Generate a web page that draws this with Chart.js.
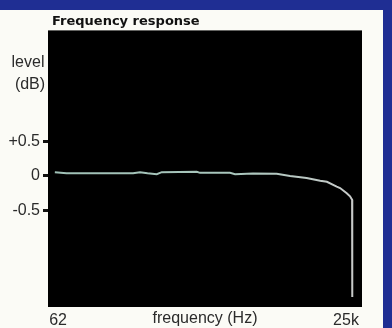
<!DOCTYPE html>
<html>
<head>
<meta charset="utf-8">
<script src="https://cdn.jsdelivr.net/npm/chart.js@4/dist/chart.umd.min.js"></script>
<style>
  html, body { margin: 0; padding: 0; background: #1f2e93; width: 392px; height: 328px; overflow: hidden; }
  #frame { position: absolute; left: 0; top: 10px; width: 383px; height: 318px; background: #fbfbf6; }
  canvas { display: block; }
</style>
</head>
<body>
<div id="frame"><canvas id="chart" width="383" height="318"></canvas></div>
<script>
const freqs = [58, 74, 296, 342, 400, 485, 538, 1115, 1195, 2230, 2480, 3600, 5900, 7800, 11000, 14600, 16800, 20600, 22100, 25400, 27200, 28400, 28500];
const levels = [0.055, 0.04, 0.04, 0.055, 0.04, 0.025, 0.055, 0.06, 0.045, 0.045, 0.025, 0.035, 0.03, 0.0, -0.03, -0.07, -0.085, -0.155, -0.175, -0.25, -0.295, -0.345, -1.755];

const yTicks = [0.5, 0, -0.5];
const xTicks = [62, 25000];
const xTickText = ['62', '25k'];

const labelFont = { family: '"Liberation Sans", Arial, sans-serif', size: 16 };
const textColor = '#2b2b2b';

const plotBg = {
    id: 'plotBg',
    beforeDraw(chart) {
        const { ctx, chartArea: a } = chart;
        ctx.save();
        ctx.fillStyle = '#000';
        ctx.fillRect(a.left, a.top, a.right - a.left, a.bottom - a.top);
        ctx.restore();
    }
};

const axisText = {
    id: 'axisText',
    afterDraw(chart) {
        const { ctx, chartArea: a } = chart;
        ctx.save();
        ctx.font = 'bold 13px "DejaVu Sans", sans-serif';
        ctx.fillStyle = '#111';
        ctx.textAlign = 'left';
        ctx.textBaseline = 'middle';
        ctx.fillText('Frequency response', 52, 12);
        ctx.font = '16px "Liberation Sans", Arial, sans-serif';
        ctx.fillStyle = textColor;
        ctx.textAlign = 'center';
        ctx.fillText('level', 28, 53);
        ctx.fillText('(dB)', 30, 75);
        ctx.fillText('frequency (Hz)', (a.left + a.right) / 2, 309);
        ctx.restore();
    }
};

new Chart(document.getElementById('chart'), {
    type: 'line',
    data: {
        datasets: [{
            data: freqs.map((f, i) => ({ x: f, y: levels[i] })),
            borderColor: (c) => {
                const area = c.chart.chartArea;
                if (!area) return '#a8c2ba';
                const g = c.chart.ctx.createLinearGradient(area.left, 0, area.right, 0);
                g.addColorStop(0, '#9fc0b6');
                g.addColorStop(0.6, '#a9c6bc');
                g.addColorStop(1, '#cacaca');
                return g;
            },
            borderWidth: 2,
            pointRadius: 0,
            tension: 0
        }]
    },
    options: {
        responsive: false,
        animation: false,
        layout: { padding: { left: 0, right: 21, top: 20.4, bottom: 0 } },
        plugins: {
            legend: { display: false },
            tooltip: { enabled: false },
            title: { display: false }
        },
        scales: {
            x: {
                type: 'logarithmic',
                min: 50.3,
                max: 34900,
                afterBuildTicks: (s) => { s.ticks = xTicks.map(v => ({ value: v })); },
                afterFit: (s) => { s.height = 21; },
                ticks: {
                    autoSkip: false,
                    maxRotation: 0,
                    padding: 4,
                    color: textColor,
                    font: labelFont,
                    callback: (v, i) => xTickText[i]
                },
                grid: { display: false, drawTicks: false },
                border: { display: false }
            },
            y: {
                min: -1.9,
                max: 2.11,
                afterBuildTicks: (s) => { s.ticks = yTicks.map(v => ({ value: v })); },
                afterFit: (s) => { s.width = 48; },
                ticks: {
                    padding: 3,
                    color: textColor,
                    font: labelFont,
                    callback: (v) => v > 0 ? '+' + v : String(v)
                },
                grid: { drawOnChartArea: false, drawTicks: true, tickLength: 5, color: '#111', lineWidth: 3 },
                border: { display: false }
            }
        }
    },
    plugins: [plotBg, axisText]
});
</script>
</body>
</html>
